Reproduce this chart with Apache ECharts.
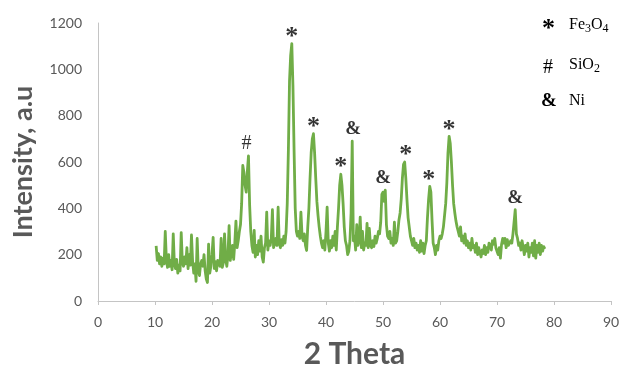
<!DOCTYPE html>
<html>
<head>
<meta charset="utf-8">
<script src="https://cdn.jsdelivr.net/npm/echarts@6/dist/echarts.min.js"></script>
<style>
  html, body { margin: 0; padding: 0; background: #fff; }
  #chart { width: 633px; height: 369px; }
</style>
</head>
<body>
<div id="chart"></div>
<script>
// XRD pattern: intensity sampled every 0.2 degrees of 2-theta, starting at 10.2
const thetaStart = 10.2;
const thetaStep = 0.2;
const intensity = [
  238, 175, 205, 160, 190,
  150, 185, 160, 300, 175,
  145, 200, 150, 175, 135,
  290, 160, 140, 180, 120,
  155, 130, 295, 165, 150,
  190, 160, 230, 140, 200,
  155, 285, 170, 120, 160,
  85, 270, 130, 110, 160,
  175, 150, 200, 130, 95,
  80, 245, 120, 150, 200,
  275, 140, 170, 130, 175,
  160, 150, 270, 145, 165,
  290, 180, 150, 200, 325,
  175, 210, 240, 180, 250,
  345, 230, 260, 300, 330,
  420, 585, 555, 500, 470,
  560, 626, 415, 300, 240,
  210, 305, 190, 240, 200,
  260, 215, 280, 190, 168,
  230, 250, 384, 220, 260,
  240, 270, 394, 230, 250,
  270, 240, 405, 250, 230,
  265, 240, 280, 250, 300,
  420, 650, 950, 1060, 1111,
  930, 650, 400, 300, 280,
  300, 270, 384, 280, 260,
  290, 240, 218, 320, 400,
  530, 640, 700, 722, 640,
  530, 430, 370, 320, 280,
  250, 230, 260, 220, 300,
  405, 250, 215, 260, 230,
  280, 240, 300, 220, 320,
  400, 500, 547, 500, 420,
  320, 260, 240, 200, 215,
  260, 380, 690, 260, 280,
  220, 330, 240, 260, 362,
  230, 300, 220, 250, 240,
  335, 230, 313, 240, 230,
  260, 235, 280, 250, 270,
  300, 290, 340, 460, 470,
  430, 478, 330, 280, 270,
  300, 250, 270, 240, 340,
  250, 260, 300, 350, 380,
  440, 530, 590, 600, 530,
  440, 360, 320, 280, 260,
  240, 270, 230, 250, 220,
  240, 210, 260, 215, 250,
  205, 240, 260, 360, 440,
  495, 470, 350, 250, 230,
  200, 240, 220, 260, 280,
  270, 290, 320, 370, 420,
  510, 640, 711, 680, 600,
  500, 420, 380, 345, 320,
  300, 280, 320, 260, 280,
  250, 290, 240, 260, 230,
  250, 220, 270, 230, 240,
  210, 250, 200, 230, 210,
  190, 220, 205, 240, 200,
  230, 210, 250, 240, 220,
  260, 245, 270, 230, 215,
  200, 230, 185, 245, 270,
  250, 270, 230, 265, 240,
  250, 260, 250, 290, 290,
  394, 290, 270, 240, 250,
  220, 260, 230, 200, 240,
  215, 250, 190, 230, 210,
  250, 195, 260, 185, 240,
  210, 250, 200, 240, 215,
  235, 225
];

// Phase markers placed above the identified reflections
const peakTheta = [26.4, 34.0, 37.8, 42.6, 44.6, 50.4, 53.8, 58.2, 61.6, 73.2];
const peakIntensity = [626, 1111, 722, 547, 690, 478, 600, 495, 711, 394];
const peakSymbol = ['#', '*', '*', '*', '&', '&', '*', '*', '*', '&'];

// Axis ticks
const xTicks = [0, 10, 20, 30, 40, 50, 60, 70, 80, 90];
const yTicks = [0, 200, 400, 600, 800, 1000, 1200];

const pattern = intensity.map((v, i) => [+(thetaStart + i * thetaStep).toFixed(1), v]);

const serif = '"Liberation Serif", "Times New Roman", serif';
const markStyle = {
  '*': { fontSize: 26, fontWeight: 'bold', distance: -7 },
  '#': { fontSize: 20, fontWeight: 'normal', distance: 2 },
  '&': { fontSize: 19, fontWeight: 'bold', distance: 2 }
};
const markDx = [-2, 0, 0, 0, 1, -2, 1, -1, 0, 0];

const peaks = peakTheta.map((t, i) => {
  const s = markStyle[peakSymbol[i]];
  return {
    value: [t, peakIntensity[i]],
    label: {
      show: true,
      position: 'top',
      distance: s.distance,
      offset: [markDx[i], 0],
      formatter: peakSymbol[i],
      fontFamily: serif,
      fontSize: s.fontSize,
      fontWeight: s.fontWeight,
      color: '#000'
    }
  };
});

const axisGrey = '#595959';
const lineGrey = '#c4c4c4';

const chart = echarts.init(document.getElementById('chart'), null, { renderer: 'canvas' });

chart.setOption({
  animation: false,
  backgroundColor: '#ffffff',
  grid: { left: 98, right: 22, top: 23, bottom: 68, containLabel: false, outerBoundsMode: 'none' },
  xAxis: {
    type: 'value',
    min: xTicks[0],
    max: xTicks[xTicks.length - 1],
    interval: 10,
    name: '2 Theta',
    nameLocation: 'middle',
    nameGap: 38,
    nameTextStyle: { fontFamily: 'Lato', fontWeight: 'bold', fontSize: 30, color: axisGrey },
    axisLine: { show: true, lineStyle: { color: lineGrey, width: 1 } },
    axisTick: { show: true, length: 4, inside: false, lineStyle: { color: lineGrey } },
    axisLabel: { margin: 14, fontFamily: 'Lato', fontSize: 14, color: axisGrey, formatter: v => String(v) },
    splitLine: { show: false }
  },
  yAxis: {
    type: 'value',
    min: yTicks[0],
    max: yTicks[yTicks.length - 1],
    interval: 200,
    name: 'Intensity, a.u',
    nameLocation: 'middle',
    nameGap: 61,
    nameRotate: 90,
    nameTextStyle: { fontFamily: 'Lato', fontWeight: 'bold', fontSize: 27, color: axisGrey },
    axisLine: { show: true, lineStyle: { color: lineGrey, width: 1 } },
    axisTick: { show: false },
    axisLabel: { margin: 16, fontFamily: 'Lato', fontSize: 14, color: axisGrey, formatter: v => String(v) },
    splitLine: { show: false }
  },
  series: [
    {
      name: 'XRD',
      type: 'line',
      data: pattern,
      showSymbol: false,
      symbol: 'none',
      lineStyle: { color: '#70ad47', width: 2.8, join: 'round' },
      z: 2
    },
    {
      name: 'phases',
      type: 'scatter',
      data: peaks,
      symbol: 'circle',
      symbolSize: 1,
      itemStyle: { color: 'rgba(0,0,0,0)' },
      silent: true,
      z: 3
    }
  ],
  graphic: [
    { type: 'text', left: 542, top: 16, style: { text: '*', font: 'bold 26px ' + serif, fill: '#000' } },
    {
      type: 'text', left: 569, top: 17,
      style: {
        text: '{n|Fe}{s|3}{n|O}{s|4}',
        rich: {
          n: { fontFamily: serif, fontSize: 16, fill: '#000', verticalAlign: 'bottom' },
          s: { fontFamily: serif, fontSize: 12, fill: '#000', verticalAlign: 'bottom', padding: [0, 0, -2, 0] }
        }
      }
    },
    { type: 'text', left: 543, top: 58, style: { text: '#', font: '20px ' + serif, fill: '#000' } },
    {
      type: 'text', left: 569, top: 57,
      style: {
        text: '{n|SiO}{s|2}',
        rich: {
          n: { fontFamily: serif, fontSize: 16, fill: '#000', verticalAlign: 'bottom' },
          s: { fontFamily: serif, fontSize: 12, fill: '#000', verticalAlign: 'bottom', padding: [0, 0, -2, 0] }
        }
      }
    },
    { type: 'text', left: 541, top: 92, style: { text: '&', font: 'bold 19px ' + serif, fill: '#000' } },
    { type: 'text', left: 569, top: 93, style: { text: 'Ni', font: '16px ' + serif, fill: '#000' } }
  ]
});
</script>
</body>
</html>
